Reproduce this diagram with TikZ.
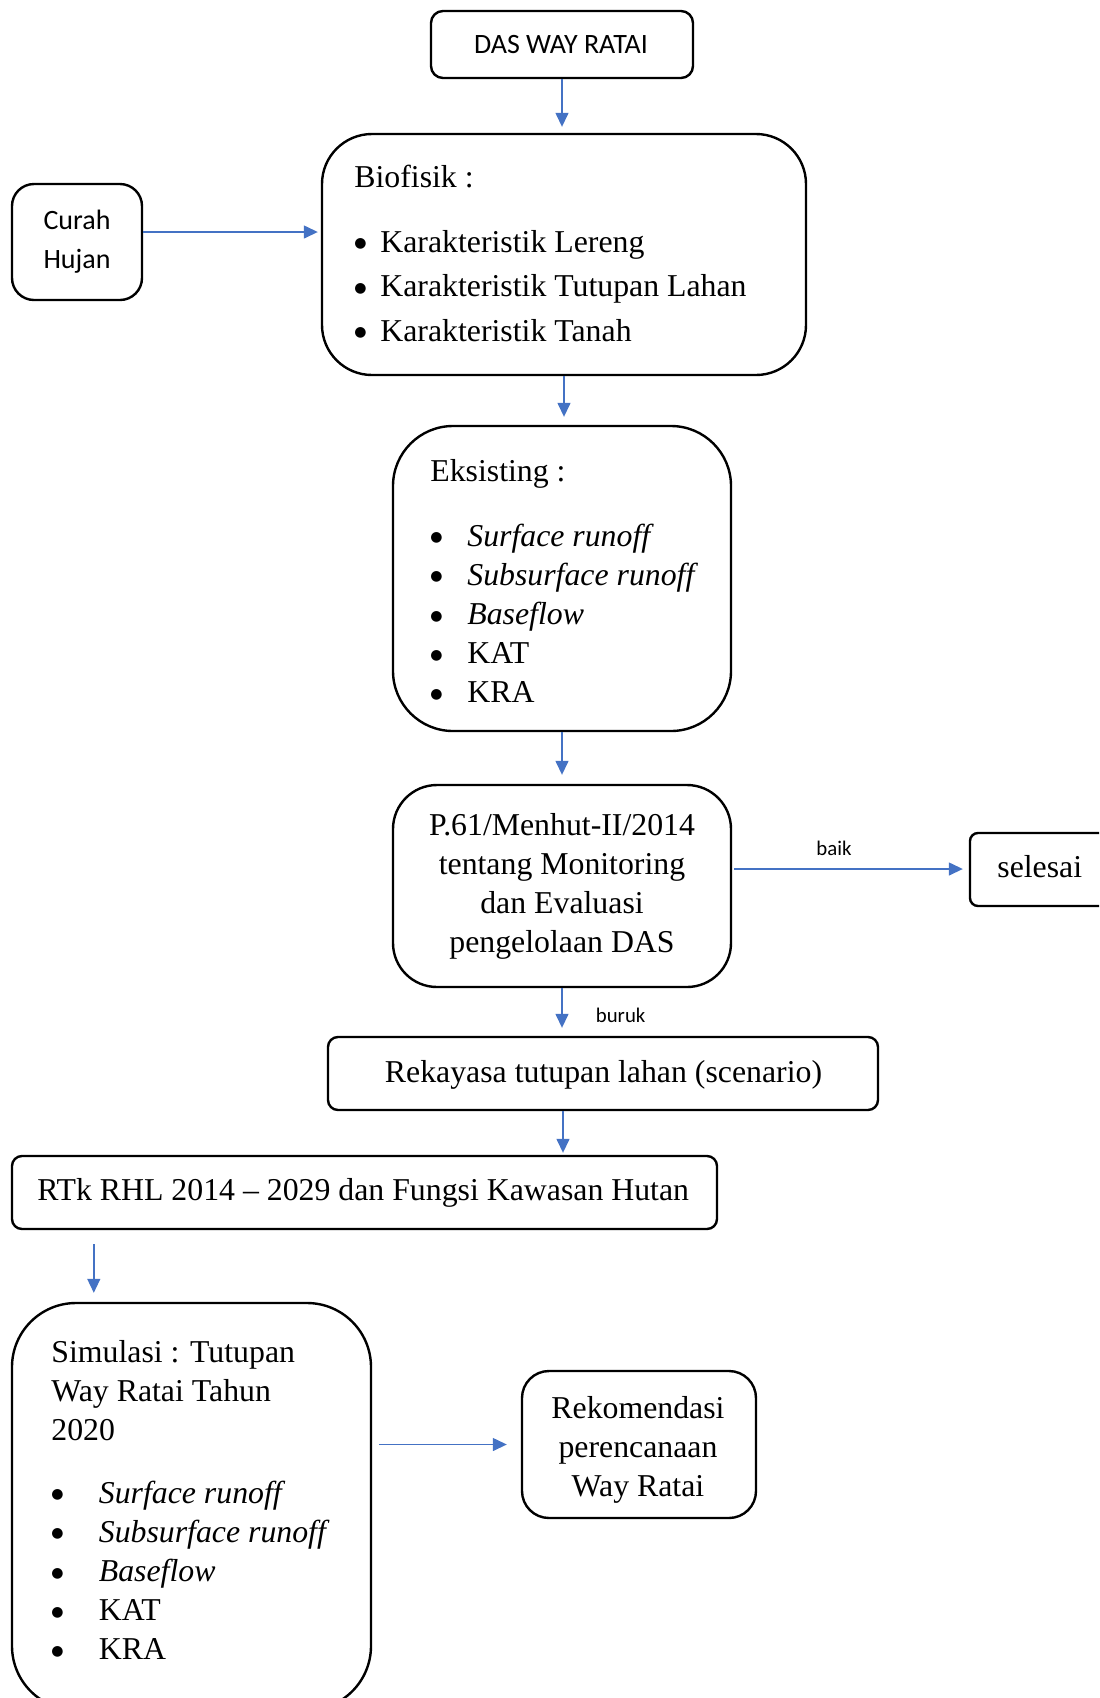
\documentclass[tikz,border=0pt]{standalone}
\usepackage{fontspec}
\setmainfont{Liberation Serif}
\newfontfamily\calibri{Carlito}
\newfontfamily\dejavu{DejaVu Sans}
\usetikzlibrary{arrows.meta,calc}
\definecolor{arrblue}{HTML}{4472C4}
\newcommand\bigbul{\raisebox{2.2pt}{\dejavu\fontsize{7pt}{7pt}\selectfont ●}}
\newcommand\bll[2]{\makebox[#1][l]{\bigbul}#2}
\begin{document}
\begin{tikzpicture}[x=0.5pt,y=-0.5pt,
  box/.style={draw=black, line width=1.2pt, inner sep=0pt},
  arr/.style={draw=arrblue, line width=0.7pt, -{Triangle[length=7pt,width=6.5pt]}},
  serif/.style={font=\fontsize{15.9pt}{19.6pt}\selectfont, inner sep=0pt},
  sans/.style={font=\calibri\fontsize{14pt}{19.5pt}\selectfont, inner sep=0pt},
  lbl/.style={font=\calibri\fontsize{10.4pt}{12pt}\selectfont, inner sep=0pt}]
\useasboundingbox (0,0) rectangle (1099,1698);
\clip (0,0) rectangle (1099,1698);
% boxes
\node[box, rounded corners=6pt, minimum width=131pt, minimum height=33.5pt] (das) at (562,44.5) {};
\node[box, rounded corners=25pt, minimum width=242pt, minimum height=120.5pt] (bio) at (564,254.5) {};
\node[box, rounded corners=11pt, minimum width=65pt, minimum height=58pt] (curah) at (77,242) {};
\node[box, rounded corners=30pt, minimum width=169pt, minimum height=152.5pt] (eks) at (562,578.5) {};
\node[box, rounded corners=22pt, minimum width=169pt, minimum height=101pt] (p61) at (562,886) {};
\node[box, rounded corners=4pt, minimum width=80pt, minimum height=36.5pt] (selesai) at (1050,869.5) {};
\node[box, rounded corners=5pt, minimum width=275pt, minimum height=36.5pt] (rek) at (603,1073.5) {};
\node[box, rounded corners=5pt, minimum width=352.5pt, minimum height=36.5pt] (rtk) at (364.5,1192.5) {};
\node[box, rounded corners=32pt, minimum width=179.5pt, minimum height=203.5pt] (sim) at (191.5,1506.5) {};
\node[box, rounded corners=13.5pt, minimum width=117pt, minimum height=73.5pt] (rekom) at (639,1444.5) {};
% texts
\node[sans, anchor=base] (dast) at (561,53) {DAS WAY RATAI};
\node[sans, anchor=base] (curt) at (77,229) {\begin{tabular}[t]{@{}c@{}}Curah\\Hujan\end{tabular}};
\node[serif, anchor=base west] (biot) at (354,187) {Biofisik :};
\node[serif, anchor=base west, font=\fontsize{15.9pt}{22.25pt}\selectfont] (biol) at (354,252)
  {\begin{tabular}[t]{@{}l@{}}\bll{13pt}{Karakteristik Lereng}\\\bll{13pt}{Karakteristik Tutupan Lahan}\\\bll{13pt}{Karakteristik Tanah}\end{tabular}};
\node[serif, anchor=base west] (ekst) at (430,481) {Eksisting :};
\node[serif, anchor=base west] (eksl) at (430,546)
  {\begin{tabular}[t]{@{}l@{}}\bll{18.5pt}{\textit{Surface runoff}}\\\bll{18.5pt}{\textit{Subsurface runoff}}\\\bll{18.5pt}{\textit{Baseflow}}\\\bll{18.5pt}{KAT}\\\bll{18.5pt}{KRA}\end{tabular}};
\node[serif, anchor=base] (p61t) at (562,835)
  {\begin{tabular}[t]{@{}c@{}}P.61/Menhut-II/2014\\tentang Monitoring\\dan Evaluasi\\pengelolaan DAS\end{tabular}};
\node[serif, anchor=base west] (selt) at (997,877) {selesai};
\node[serif, anchor=base] (rekt) at (603.5,1082) {Rekayasa tutupan lahan (scenario)};
\node[serif, anchor=base west] (rtkt) at (37,1200) {RTk RHL 2014 -- 2029 dan Fungsi Kawasan Hutan};
\node[serif, anchor=base west] (simt) at (51,1362)
  {\begin{tabular}[t]{@{}l@{}}Simulasi : Tutupan\\Way Ratai Tahun\\2020\end{tabular}};
\node[serif, anchor=base west] (siml) at (51,1503)
  {\begin{tabular}[t]{@{}l@{}}\bll{23.75pt}{\textit{Surface runoff}}\\\bll{23.75pt}{\textit{Subsurface runoff}}\\\bll{23.75pt}{\textit{Baseflow}}\\\bll{23.75pt}{KAT}\\\bll{23.75pt}{KRA}\end{tabular}};
\node[serif, anchor=base] (rekomt) at (638,1418)
  {\begin{tabular}[t]{@{}c@{}}Rekomendasi\\perencanaan\\Way Ratai\end{tabular}};
\node[lbl, anchor=base] (baik) at (834,855) {baik};
\node[lbl, anchor=base west] (buruk) at (595.5,1022) {buruk};
% arrows
\draw[arr, shorten >=3pt] (das.south) -- (das.south |- bio.north);
\coordinate (c1) at ([yshift=5pt]curah.east);
\draw[arr, shorten >=1.5pt] (c1) -- (c1 -| bio.west);
\draw[arr, shorten >=4pt] (bio.south) -- (bio.south |- eks.north);
\draw[arr, shorten >=4.5pt] (eks.south) -- (eks.south |- p61.north);
\coordinate (c2) at ([yshift=8.5pt,xshift=1pt]p61.east);
\draw[arr, shorten >=3pt] (c2) -- (c2 -| selesai.west);
\draw[arr, shorten >=4pt] (p61.south) -- (p61.south |- rek.north);
\coordinate (c3) at ([xshift=-20pt]rek.south);
\draw[arr, shorten >=1pt] (c3) -- (c3 |- rtk.north);
\coordinate (c4) at ([xshift=41.5pt,yshift=-7pt]rtk.south west);
\draw[arr, shorten >=4.5pt] (c4) -- (c4 |- sim.north);
\coordinate (c5) at ([xshift=3.5pt]sim.east |- rekom.west);
\draw[arr, shorten >=7pt] (c5) -- (rekom.west);
\end{tikzpicture}
\end{document}
